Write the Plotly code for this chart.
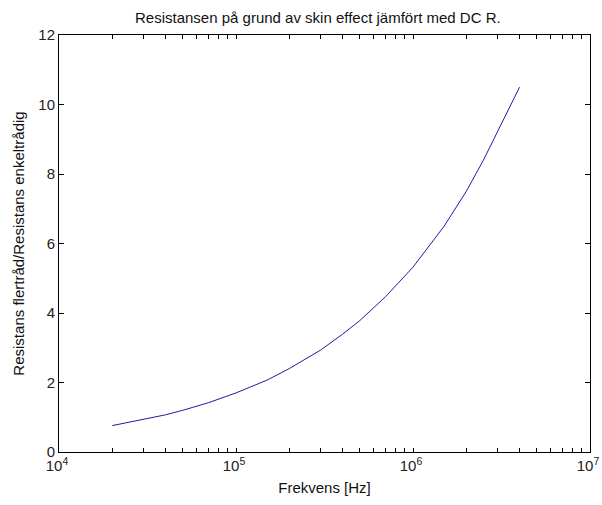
import plotly.graph_objects as go

# Data
freq = [2e4, 3e4, 4e4, 5e4, 7e4, 1e5, 1.5e5, 2e5, 3e5, 4e5, 5e5, 7e5,
        1e6, 1.5e6, 2e6, 2.5e6, 3e6, 3.5e6, 4e6]
ratio = [0.76, 0.93, 1.07, 1.2, 1.42, 1.7, 2.07, 2.4, 2.93, 3.39, 3.78, 4.47,
         5.32, 6.5, 7.5, 8.4, 9.2, 9.9, 10.5]

x_decades = [1e4, 1e5, 1e6, 1e7]
x_decade_labels = ["10<sup>4</sup>", "10<sup>5</sup>", "10<sup>6</sup>", "10<sup>7</sup>"]
x_minor = [m * d for d in [1e4, 1e5, 1e6] for m in range(2, 10)]
y_ticks = [0, 2, 4, 6, 8, 10, 12]

font = "Liberation Sans, Arial, sans-serif"

fig = go.Figure()
fig.add_trace(go.Scatter(x=freq, y=ratio, mode="lines",
                         line=dict(color="#1c1ca8", width=1), showlegend=False))

tickvals = x_decades + x_minor
ticktext = x_decade_labels + [""] * len(x_minor)

fig.update_layout(
    width=602, height=505,
    margin=dict(l=59, r=12, t=35, b=53, autoexpand=False),
    paper_bgcolor="white", plot_bgcolor="white",
    font=dict(family=font, size=15, color="black"),
    title=dict(text="Resistansen på grund av skin effect jämfört med DC R.",
               x=0.528, xanchor="center", y=0.965, yanchor="middle",
               font=dict(size=15, family=font, color="#111")),
    xaxis=dict(type="log", range=[4, 7], tickvals=tickvals, ticktext=ticktext,
               ticks="inside", ticklen=4, tickcolor="black",
               showline=True, linecolor="black", linewidth=1, mirror="allticks",
               showgrid=False, zeroline=False, ticklabelshift=-2,
               tickfont=dict(size=15, family=font, color="#222"),
               title=dict(text="Frekvens [Hz]", font=dict(size=15, family=font, color="#111"),
                          standoff=9)),
    yaxis=dict(range=[0, 12], tickvals=y_ticks,
               ticks="inside", ticklen=5, tickcolor="black",
               showline=True, linecolor="black", linewidth=1, mirror="allticks",
               showgrid=False, zeroline=False,
               tickfont=dict(size=15, family=font, color="#222"),
               title=dict(text="Resistans flertråd/Resistans enkeltrådig",
                          font=dict(size=15, family=font, color="#111"), standoff=10)),
)

fig.write_html("out.html", config={"displayModeBar": False},
               post_script="document.body.style.margin='0';")
